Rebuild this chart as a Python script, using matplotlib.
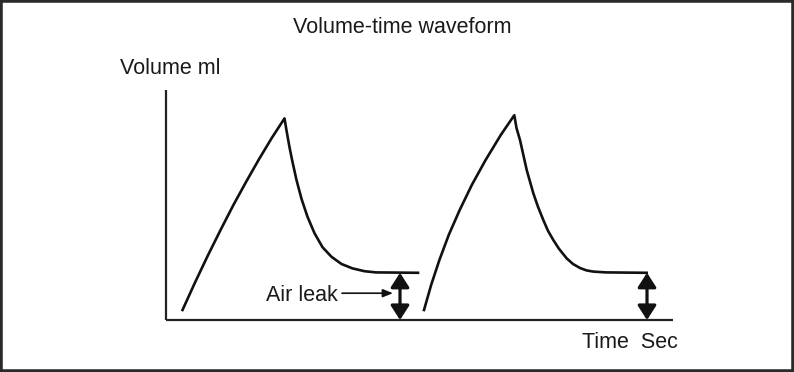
import matplotlib
matplotlib.use("Agg")
import matplotlib.pyplot as plt
from matplotlib.patches import Rectangle

plt.rcParams['font.family'] = ['Liberation Sans', 'DejaVu Sans']

# ---- data (time in s, volume in ml) ----
t_cycle1 = [0.165, 0.2925, 0.42, 0.5475, 0.675, 0.8025, 0.93, 1.0575, 1.185,
            1.205, 1.235, 1.265, 1.305, 1.355, 1.415, 1.485, 1.565, 1.655,
            1.755, 1.865, 1.985, 2.10, 2.52]
v_cycle1 = [25, 95, 162, 226, 288, 346, 402, 455, 504,
            474, 432, 395, 350, 303, 258, 217, 182, 158,
            140, 129, 122, 119, 118]

t_cycle2 = [2.58, 2.652, 2.734, 2.828, 2.937, 3.059, 3.196, 3.349, 3.483,
            3.505, 3.54, 3.607, 3.673, 3.72, 3.773, 3.82, 3.873, 3.93, 4.007,
            4.07, 4.14, 4.205, 4.273, 4.40, 4.807]
v_cycle2 = [25, 88, 150, 213, 275, 338, 400, 463, 512,
            480, 450, 375, 317, 283, 250, 223, 200, 178, 154,
            140, 130, 124, 121, 119, 118]

leak_t = [2.34, 4.81]        # where the air-leak gap is marked
leak_v = [118, 118]          # end-expiratory volume not returning to zero

axis_t_max = 5.07
axis_v_max = 575

title = "Volume-time waveform"
y_label = "Volume ml"
x_label = "Time  Sec"
leak_label = "Air leak"

# ---- figure ----
W, H = 794, 372
fig = plt.figure(figsize=(W / 100, H / 100), dpi=100)
ax = fig.add_axes([0, 0, 1, 1])
ax.set_xlim(-1.66, 6.28)
ax.set_ylim(-130, 800)
ax.axis('off')

ink = '#111111'
# axes lines
ax.plot([0, 0], [0, axis_v_max], color='#222222', lw=1.6, solid_capstyle='butt')
ax.plot([0, axis_t_max], [0, 0], color='#222222', lw=1.6, solid_capstyle='butt')

# waveform
ax.plot(t_cycle1, v_cycle1, color=ink, lw=1.9, solid_joinstyle='round')
ax.plot(t_cycle2, v_cycle2, color=ink, lw=1.9, solid_joinstyle='round')

# double-headed arrows showing leak
for t, v in zip(leak_t, leak_v):
    ax.annotate('', xy=(t, 0), xytext=(t, v),
                arrowprops=dict(arrowstyle='<|-|>,head_length=0.62,head_width=0.4',
                                mutation_scale=14, lw=2.3, color=ink,
                                shrinkA=0, shrinkB=0))

# "Air leak" pointer
ax.annotate('', xy=(2.27, 67), xytext=(1.76, 67),
            arrowprops=dict(arrowstyle='-|>,head_length=0.5,head_width=0.2',
                            mutation_scale=12, lw=1.2, color=ink,
                            shrinkA=0, shrinkB=0))

def px(x, y):
    return x / W, 1 - y / H

fs = 15.5
tc = '#1a1a1a'
fig.text(*px(402, 33), title, ha='center', va='baseline', fontsize=fs, color=tc)
fig.text(*px(120, 74), y_label, ha='left', va='baseline', fontsize=fs, color=tc)
fig.text(*px(338, 301), leak_label, ha='right', va='baseline', fontsize=fs, color=tc)
fig.text(*px(678, 348), x_label, ha='right', va='baseline', fontsize=fs, color=tc)

# outer frame
fig.patches.append(Rectangle((0, 0), 1, 1, transform=fig.transFigure, fill=False,
                             edgecolor='#2a2a2a', lw=4, zorder=10))

fig.savefig('out.png', dpi=100)
